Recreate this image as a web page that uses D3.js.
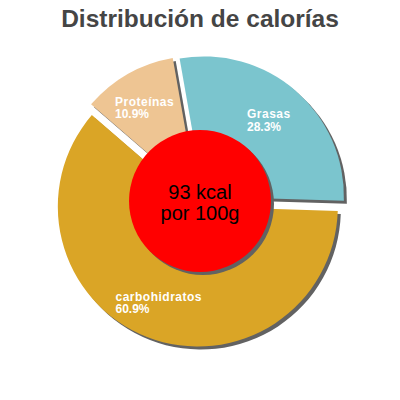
<!DOCTYPE html>
<html>
<head>
<meta charset="utf-8">
<script src="https://cdn.jsdelivr.net/npm/d3@7"></script>
<style>
  body { margin: 0; background: #fff; }
  text { font-family: "Liberation Sans", Arial, sans-serif; }
</style>
</head>
<body>
<script>
// data
var labels = ['Grasas', 'carbohidratos', 'Proteínas'];
var percents = [28.3, 60.9, 10.9];
var colors = ['#7bc5ce', '#daa526', '#eec593'];
var centerLines = ['93 kcal', 'por 100g'];
var title = 'Distribución de calorías';

var svg = d3.select('body').append('svg')
    .attr('width', 400)
    .attr('height', 400);

svg.append('text')
    .attr('x', 200)
    .attr('y', 27)
    .attr('text-anchor', 'middle')
    .attr('font-size', 24.5)
    .attr('font-weight', 'bold')
    .attr('fill', '#454545')
    .text(title);

var cx = 200, cy = 201, R = 140, explode = 6;

var pie = d3.pie()
    .sort(null)
    .startAngle(-10 * Math.PI / 180)
    .endAngle(350 * Math.PI / 180)
    .value(function(d){ return d; });

var arcs = pie(percents);

var arc = d3.arc().innerRadius(0).outerRadius(R);

function shift(d, dist){
    var a = (d.startAngle + d.endAngle) / 2;
    return [Math.sin(a) * dist, -Math.cos(a) * dist];
}

var g = svg.append('g').attr('transform', 'translate(' + cx + ',' + cy + ')');

// shadows
g.selectAll('path.shadow')
    .data(arcs)
    .enter()
    .append('path')
    .attr('class', 'shadow')
    .attr('d', arc)
    .attr('fill', '#626262')
    .attr('transform', function(d){
        var s = shift(d, explode);
        return 'translate(' + (s[0] + 3) + ',' + (s[1] + 3) + ')';
    });

g.selectAll('path.slice')
    .data(arcs)
    .enter()
    .append('path')
    .attr('class', 'slice')
    .attr('d', arc)
    .attr('fill', function(d, i){ return colors[i]; })
    .attr('transform', function(d){
        var s = shift(d, explode);
        return 'translate(' + s[0] + ',' + s[1] + ')';
    });

// labels, name over percent, left aligned block
var lab = g.selectAll('g.lab')
    .data(arcs)
    .enter()
    .append('g')
    .attr('class', 'lab');

lab.each(function(d, i){
    var s = shift(d, explode + R * 0.73);
    var sel = d3.select(this);
    var t1 = sel.append('text')
        .attr('x', 0).attr('y', 0)
        .attr('fill', '#fff')
        .attr('font-size', 12)
        .attr('font-weight', 'bold')
        .attr('letter-spacing', 0.5)
        .text(labels[i]);
    sel.append('text')
        .attr('x', 0).attr('y', 12.5)
        .attr('fill', '#fff')
        .attr('font-size', 12)
        .attr('font-weight', 'bold')
        .text(percents[i].toFixed(1) + '%');
    var w = t1.node().getBBox().width;
    sel.attr('transform', 'translate(' + (s[0] - w / 2 - 2) + ',' + (s[1] - 1) + ')');
});

// center circle
g.append('circle')
    .attr('cx', 3).attr('cy', 3)
    .attr('r', 71)
    .attr('fill', '#626262');

g.append('circle')
    .attr('r', 71)
    .attr('fill', '#ff0000');

g.selectAll('text.center')
    .data(centerLines)
    .enter()
    .append('text')
    .attr('class', 'center')
    .attr('x', 0)
    .attr('y', function(d, i){ return -2 + i * 21; })
    .attr('text-anchor', 'middle')
    .attr('font-size', 20)
    .attr('fill', '#000')
    .text(function(d){ return d; });
</script>
</body>
</html>
